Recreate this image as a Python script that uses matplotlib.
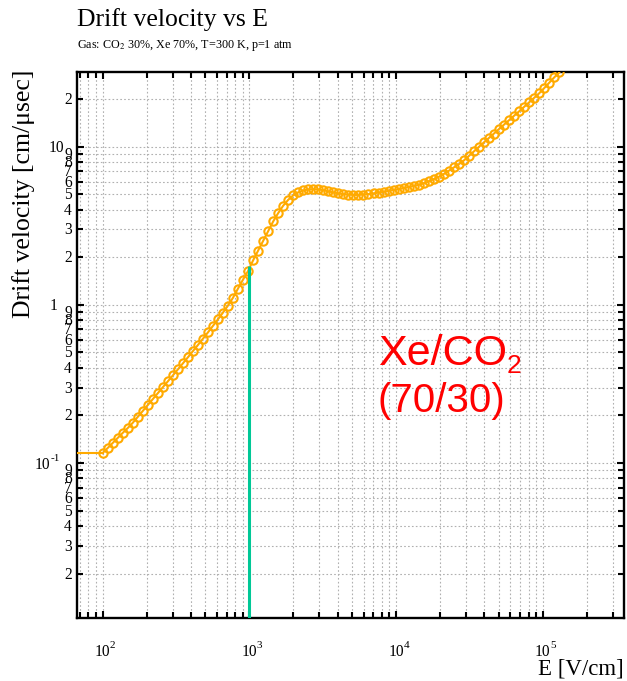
import matplotlib
matplotlib.use("Agg")
import matplotlib.pyplot as plt
import matplotlib.transforms as mtransforms
from matplotlib.ticker import FixedLocator, NullFormatter

plt.rcParams['mathtext.fontset'] = 'stix'

# ---------------- data ----------------
E_field = [100, 108.2, 117.0, 126.6, 137.0, 148.3, 160.4, 173.5, 187.7, 203.1,
           219.8, 237.7, 257.2, 278.3, 301.1, 325.7, 352.4, 381.3, 412.5, 446.3,
           482.8, 522.3, 565.1, 611.4, 661.4, 715.6, 774.3, 837.6, 906.3, 980.5,
           1061, 1148, 1242, 1344, 1454, 1573, 1701, 1841, 1991, 2154,
           2331, 2522, 2729, 2952, 3194, 3455, 3738, 4044, 4375, 4734,
           5121, 5541, 5995, 6485, 7017, 7591, 8213, 8886, 9614, 10401,
           11253, 12174, 13171, 14251, 15417, 16681, 18047, 19524, 21123, 22853,
           24725, 26749, 28940, 31310, 33873, 36647, 39648, 42894, 46416, 50215,
           54327, 58776, 63589, 68797, 74430, 80525, 87118, 94253, 101988, 110340,
           119378, 129155]
drift_velocity = [0.1156, 0.1243, 0.1337, 0.1439, 0.1549, 0.1663, 0.1794, 0.1955, 0.2131, 0.2323,
                  0.2533, 0.2761, 0.3011, 0.3282, 0.3577, 0.3904, 0.4262, 0.4657, 0.5094, 0.5572,
                  0.6105, 0.6692, 0.7358, 0.8100, 0.893, 0.990, 1.109, 1.268, 1.445, 1.637,
                  1.910, 2.201, 2.535, 2.922, 3.365, 3.80, 4.23, 4.61, 4.92, 5.14,
                  5.28, 5.36, 5.38, 5.36, 5.30, 5.21, 5.13, 5.06, 5.00, 4.97,
                  4.95, 4.95, 4.98, 5.01, 5.06, 5.12, 5.18, 5.25, 5.32, 5.38,
                  5.47, 5.55, 5.64, 5.73, 5.86, 6.03, 6.22, 6.44, 6.71, 7.03,
                  7.38, 7.74, 8.17, 8.72, 9.32, 9.96, 10.63, 11.34, 12.09, 12.90,
                  13.76, 14.67, 15.65, 16.68, 17.81, 19.02, 20.31, 21.69, 23.40, 25.29,
                  27.34, 29.4]

x_limits = [67.0, 3.57e5]
y_limits = [0.0105, 29.6]

marker_line_E = 1000
marker_line_top = 1.76

x_major = [1e2, 1e3, 1e4, 1e5]
x_major_exp = ["2", "3", "4", "5"]
x_minor = [70, 80, 90] + [m * 10 ** d for d in (2, 3, 4) for m in range(2, 10)] + [2e5, 3e5]

y_major = [0.1, 1, 10]
y_minor = [m * 10 ** d for d in (-2, -1, 0) for m in range(2, 10)] + [20]

title = "Drift velocity vs E"
subtitle = "Gas: CO$_2$ 30%, Xe 70%, T=300 K, p=1 atm"
xlabel = "E [V/cm]"
ylabel = "Drift velocity [cm/\u03bcsec]"
annot_line1 = "Xe/CO"
annot_sub = "2"
annot_line2 = "(70/30)"

curve_color = "#ffaa00"
vline_color = "#00c896"
grid_color = "#b0b0b0"
serif = ["Liberation Serif", "DejaVu Serif"]
sans = ["Liberation Sans", "DejaVu Sans"]

W, H = 627, 681
fig = plt.figure(figsize=(W / 100, H / 100), dpi=100)
L, R, T, B = 77, 624, 72, 618
ax = fig.add_axes([L / W, 1 - B / H, (R - L) / W, (B - T) / H])
ax.set_xscale("log")
ax.set_yscale("log")
ax.set_xlim(*x_limits)
ax.set_ylim(*y_limits)

# grid
ax.xaxis.set_major_locator(FixedLocator(x_major))
ax.xaxis.set_minor_locator(FixedLocator(x_minor))
ax.yaxis.set_major_locator(FixedLocator(y_major))
ax.yaxis.set_minor_locator(FixedLocator(y_minor))
for axis in (ax.xaxis, ax.yaxis):
    axis.set_major_formatter(NullFormatter())
    axis.set_minor_formatter(NullFormatter())
ax.grid(True, which="both", color=grid_color, linestyle=(0, (1.5, 2)), linewidth=0.8)
ax.set_axisbelow(True)
ax.tick_params(which="both", direction="in", top=True, right=True, width=1.5, color="black")
ax.tick_params(which="major", length=5)
ax.tick_params(which="minor", length=4.5)
for s in ax.spines.values():
    s.set_linewidth(1.7)

# constant extrapolation below the first grid point
ax.plot([x_limits[0], E_field[0]], [drift_velocity[0], drift_velocity[0]],
        color=curve_color, lw=1.5, zorder=3)
ax.plot(E_field, drift_velocity, color=curve_color, lw=1.5, marker="o", markersize=6,
        markerfacecolor="none", markeredgecolor=curve_color, markeredgewidth=1.5, zorder=3)

ax.vlines(marker_line_E, y_limits[0], marker_line_top, color=vline_color, lw=2.2, zorder=4)

# ---- tick labels (ROOT style) ----
fs_tick = 11.2
fs_exp = 8
tx = mtransforms.blended_transform_factory(ax.transData, fig.transFigure)
ylab_base = 1 - 656 / H
for v, e in zip(x_major, x_major_exp):
    ax.text(v, ylab_base, "10", transform=tx, ha="center", va="baseline",
            fontsize=fs_tick, family=serif)
    ax.text(v, ylab_base, e, transform=mtransforms.offset_copy(tx, fig, x=7.5, y=8, units="dots"),
            ha="left", va="baseline", fontsize=fs_exp, family=serif)

ty = mtransforms.blended_transform_factory(fig.transFigure, ax.transData)
for v in y_minor:
    if v >= 10:
        d = int(round(v / 10))
    elif v >= 1:
        d = int(round(v))
    elif v >= 0.1:
        d = int(round(v * 10))
    else:
        d = int(round(v * 100))
    ax.text(72 / W, v, str(d), transform=mtransforms.offset_copy(ty, fig, x=0, y=-5, units="dots"),
            ha="right", va="baseline", fontsize=fs_tick, family=serif)
ax.text(64 / W, 10, "10", transform=mtransforms.offset_copy(ty, fig, x=0, y=-5, units="dots"),
        ha="right", va="baseline", fontsize=fs_tick, family=serif)
ax.text(57 / W, 1, "1", transform=mtransforms.offset_copy(ty, fig, x=0, y=-5, units="dots"),
        ha="right", va="baseline", fontsize=fs_tick, family=serif)
ax.text(50 / W, 0.1, "10", transform=mtransforms.offset_copy(ty, fig, x=0, y=-6, units="dots"),
        ha="right", va="baseline", fontsize=fs_tick, family=serif)
ax.text(50 / W, 0.1, "-1", transform=mtransforms.offset_copy(ty, fig, x=0.5, y=2, units="dots"),
        ha="left", va="baseline", fontsize=fs_exp, family=serif)

# ---- titles ----
fig.text(77 / W, 1 - 26 / H, title, ha="left", va="baseline", fontsize=18.5, family=serif)
fig.text(77 / W, 1 - 48 / H, subtitle, ha="left", va="baseline", fontsize=8.7, family=serif)
fig.text(624 / W, 1 - 675 / H, xlabel, ha="right", va="baseline", fontsize=16.5, family=serif)
fig.text(24 / W, 1 - 70 / H, ylabel, ha="center", va="top", rotation=90, fontsize=18.5, family=serif)

# ---- annotation ----
fig.text(378 / W, 1 - 365 / H, annot_line1, ha="left", va="baseline", fontsize=31,
         family=sans, color="red")
fig.text(507 / W, 1 - 373 / H, annot_sub, ha="left", va="baseline", fontsize=19,
         family=sans, color="red")
fig.text(378 / W, 1 - 412 / H, annot_line2, ha="left", va="baseline", fontsize=29,
         family=sans, color="red")

fig.savefig("out.png", dpi=100)
